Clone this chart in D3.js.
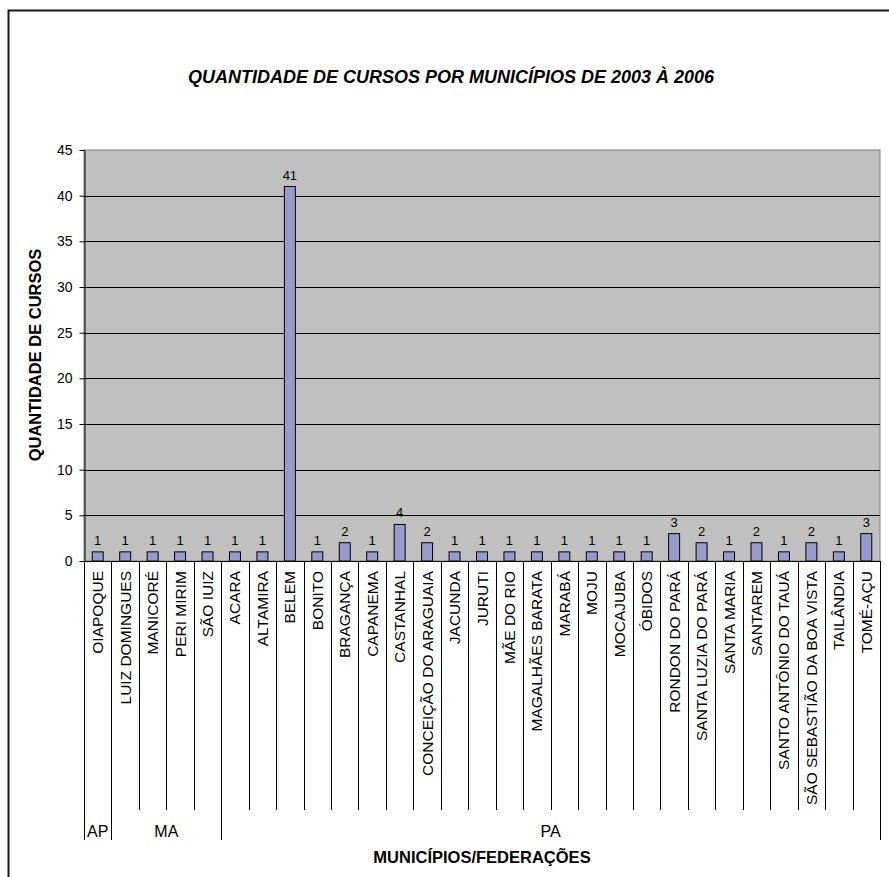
<!DOCTYPE html>
<html>
<head>
<meta charset="utf-8">
<script src="https://cdn.jsdelivr.net/npm/d3@7/dist/d3.min.js"></script>
<style>
  html, body { margin: 0; padding: 0; background: #fff; }
  svg { display: block; font-family: "Liberation Sans", Arial, sans-serif; }
</style>
</head>
<body>
<svg id="chart" width="889" height="877"></svg>
<script>
// Municípios (ordered as in the table under the chart)
const categories = [
  "OIAPOQUE",
  "LUIZ DOMINGUES", "MANICORÉ", "PERI MIRIM", "SÃO IUIZ",
  "ACARA", "ALTAMIRA", "BELEM", "BONITO", "BRAGANÇA", "CAPANEMA", "CASTANHAL",
  "CONCEIÇÃO DO ARAGUAIA", "JACUNDA", "JURUTI", "MÃE DO RIO", "MAGALHÃES BARATA",
  "MARABÁ", "MOJU", "MOCAJUBA", "ÓBIDOS", "RONDON DO PARÁ", "SANTA LUZIA DO PARÁ",
  "SANTA MARIA", "SANTAREM", "SANTO ANTÔNIO DO TAUÁ", "SÃO SEBASTIÃO DA BOA VISTA",
  "TAILÂNDIA", "TOMÉ-AÇU"
];

// Quantidade de cursos por município
const values = [
  1,
  1, 1, 1, 1,
  1, 1, 41, 1, 2, 1, 4,
  2, 1, 1, 1, 1,
  1, 1, 1, 1, 3, 2,
  1, 2, 1, 2,
  1, 3
];

// Federações and how many municípios each one spans
const groupNames = ["AP", "MA", "PA"];
const groupSizes = [1, 4, 24];

const yTicks = [0, 5, 10, 15, 20, 25, 30, 35, 40, 45];

const title = "QUANTIDADE DE CURSOS POR MUNICÍPIOS DE 2003 À 2006";
const yTitle = "QUANTIDADE DE CURSOS";
const xTitle = "MUNICÍPIOS/FEDERAÇÕES";

const svg = d3.select("#chart");

const plot = { left: 84, right: 880, top: 150, bottom: 561 };

const x = d3.scaleBand()
  .domain(categories)
  .range([plot.left, plot.right])
  .paddingInner(0)
  .paddingOuter(0);

const y = d3.scaleLinear()
  .domain([0, 45])
  .range([plot.bottom, plot.top]);

// outer frame
svg.append("rect")
  .attr("x", 8.5).attr("y", 10.5)
  .attr("width", 900).attr("height", 900)
  .attr("fill", "none")
  .attr("stroke", "#1a1a1a")
  .attr("stroke-width", 2);

// title
svg.append("text")
  .attr("x", 451).attr("y", 83)
  .attr("text-anchor", "middle")
  .attr("font-size", 18)
  .attr("font-weight", "bold")
  .attr("font-style", "italic")
  .attr("fill", "#000")
  .text(title);

// plot background
svg.append("rect")
  .attr("x", plot.left).attr("y", plot.top)
  .attr("width", plot.right - plot.left)
  .attr("height", plot.bottom - plot.top)
  .attr("fill", "#c0c0c0")
  .attr("stroke", "#808080")
  .attr("stroke-width", 1);

// gridlines
svg.append("g")
  .selectAll("line")
  .data(yTicks.filter(t => t > 0 && t < 45))
  .join("line")
  .attr("x1", plot.left).attr("x2", plot.right)
  .attr("y1", d => Math.round(y(d)) + 0.5)
  .attr("y2", d => Math.round(y(d)) + 0.5)
  .attr("stroke", "#000")
  .attr("stroke-width", 1);

// bars
const barW = x.bandwidth() * 0.4;
svg.append("g")
  .selectAll("rect")
  .data(categories)
  .join("rect")
  .attr("x", (d) => x(d) + (x.bandwidth() - barW) / 2)
  .attr("y", (d, i) => y(values[i]))
  .attr("width", barW)
  .attr("height", (d, i) => y(0) - y(values[i]))
  .attr("fill", "#9999cc")
  .attr("stroke", "#000")
  .attr("stroke-width", 1);

// value labels
svg.append("g")
  .selectAll("text")
  .data(categories)
  .join("text")
  .attr("x", d => x(d) + x.bandwidth() / 2)
  .attr("y", (d, i) => y(values[i]) - 7)
  .attr("text-anchor", "middle")
  .attr("font-size", 13)
  .attr("fill", "#000")
  .text((d, i) => values[i]);

// y axis
const yAxis = svg.append("g")
  .attr("transform", `translate(${plot.left + 0.5},0)`)
  .call(d3.axisLeft(y).tickValues(yTicks).tickSize(5).tickPadding(7).tickSizeOuter(0));
yAxis.select(".domain").attr("stroke", "#000");
yAxis.selectAll(".tick line").attr("stroke", "#000");
yAxis.selectAll(".tick text")
  .attr("font-size", 14)
  .attr("font-family", "Liberation Sans, Arial, sans-serif")
  .attr("fill", "#000");

// x axis baseline
svg.append("line")
  .attr("x1", plot.left).attr("x2", plot.right)
  .attr("y1", plot.bottom + 0.5).attr("y2", plot.bottom + 0.5)
  .attr("stroke", "#000");

// category table: separators between municípios
const groupEdges = [0];
groupSizes.forEach(s => groupEdges.push(groupEdges[groupEdges.length - 1] + s));
const edges = d3.range(categories.length + 1);
svg.append("g")
  .selectAll("line")
  .data(edges)
  .join("line")
  .attr("x1", i => Math.round(plot.left + i * x.step()) + 0.5)
  .attr("x2", i => Math.round(plot.left + i * x.step()) + 0.5)
  .attr("y1", plot.bottom)
  .attr("y2", i => groupEdges.includes(i) ? 840 : 810)
  .attr("stroke", "#000")
  .attr("stroke-width", 1);

// category labels (rotated)
svg.append("g")
  .selectAll("text")
  .data(categories)
  .join("text")
  .attr("transform", d => `translate(${x(d) + x.bandwidth() / 2 + 5.5},571) rotate(-90)`)
  .attr("text-anchor", "end")
  .attr("font-size", 15.5)
  .attr("fill", "#000")
  .text(d => d);

// federação labels
svg.append("g")
  .selectAll("text")
  .data(groupNames)
  .join("text")
  .attr("x", (d, i) => plot.left + (groupEdges[i] + groupEdges[i + 1]) / 2 * x.step())
  .attr("y", 837)
  .attr("text-anchor", "middle")
  .attr("font-size", 16)
  .attr("fill", "#000")
  .text(d => d);

// axis titles
svg.append("text")
  .attr("x", 482).attr("y", 863)
  .attr("text-anchor", "middle")
  .attr("font-size", 16.5)
  .attr("font-weight", "bold")
  .attr("fill", "#000")
  .text(xTitle);

svg.append("text")
  .attr("transform", "translate(41,355) rotate(-90)")
  .attr("text-anchor", "middle")
  .attr("font-size", 16.5)
  .attr("font-weight", "bold")
  .attr("fill", "#000")
  .text(yTitle);
</script>
</body>
</html>
